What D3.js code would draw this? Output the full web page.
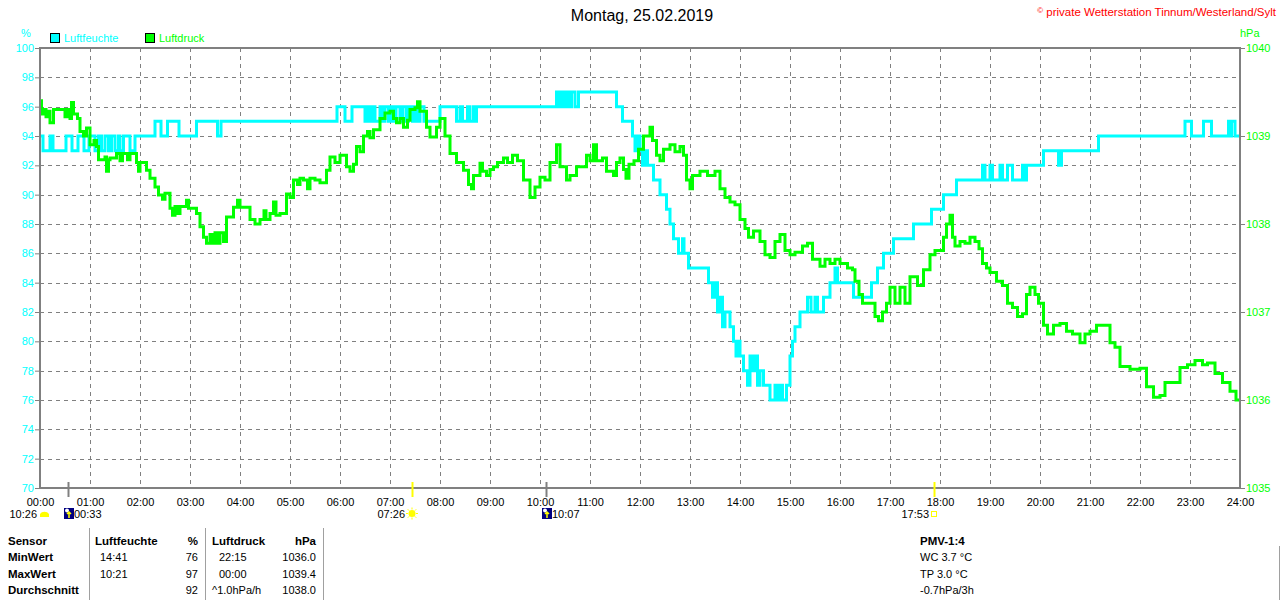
<!DOCTYPE html>
<html>
<head>
<meta charset="utf-8">
<script src="https://cdn.jsdelivr.net/npm/d3@7"></script>
<style>
body { margin: 0; background: #fff; }
svg { display: block; font-family: "Liberation Sans", Arial, sans-serif; }
</style>
</head>
<body>
<svg id="chart" width="1280" height="600"></svg>
<script>
// hours of day, relative humidity %
const humidity = [
  [0,94],[0.06,93],[0.2,94],[0.26,93],[0.52,94],[0.64,93],[0.76,94],[0.88,93],[0.98,94],[1.1,93],
  [1.17,94],[1.23,93],[1.3,94],[1.37,93],[1.43,94],[1.5,93],[1.57,94],[1.6,93],[1.67,94],[1.8,93],
  [1.9,94],[2.3,95],[2.42,94],[2.55,95],[2.78,94],[3.13,95],[3.55,94],[3.62,95],
  [5.94,96],[6.1,95],[6.24,96],[6.5,95],[6.55,96],[6.6,95],[6.64,96],[6.7,95],[6.8,96],[6.85,95],
  [6.9,96],[6.97,95],[7.02,96],[7.07,95],[7.12,96],[7.2,95],[7.25,96],[7.32,95],[7.37,96],[7.45,95],
  [7.5,96],[7.55,95],[7.6,96],[7.68,95],[8.0,96],[8.33,95],[8.4,96],[8.45,95],[8.55,96],[8.6,95],
  [8.67,96],[8.7,95],[8.73,96],[10.33,97],[10.38,96],[10.42,97],[10.48,96],[10.53,97],[10.58,96],
  [10.63,97],[10.7,96],[10.77,97],[11.53,96],[11.65,95],[11.85,94],[11.9,93],[11.95,94],[12.0,93],
  [12.05,92],[12.1,93],[12.15,92],[12.27,91],[12.4,90],[12.53,89],[12.6,88],[12.67,87],[12.77,86],
  [12.85,87],[12.88,86],[12.97,85],[13.37,84],[13.45,83],[13.5,84],[13.55,82],[13.6,83],[13.65,81],
  [13.7,82],[13.8,81],[13.87,80],[13.92,79],[13.97,80],[14.0,79],[14.07,78],[14.15,77],[14.2,79],
  [14.25,78],[14.3,79],[14.35,77],[14.4,78],[14.47,77],[14.6,76],[14.7,77],[14.75,76],[14.8,77],
  [14.85,76],[14.93,77],[15.0,79],[15.05,80],[15.1,81],[15.2,82],[15.35,83],[15.42,82],[15.5,83],
  [15.55,82],[15.67,83],[15.8,84],[15.9,85],[15.95,84],[16.27,83],[16.63,84],[16.75,85],[16.87,86],
  [17.07,87],[17.47,88],[17.83,89],[18.07,90],[18.33,91],[18.85,92],[18.9,91],[19.0,92],[19.05,91],
  [19.2,92],[19.25,91],[19.35,92],[19.45,91],[19.65,92],[19.7,91],[19.73,92],[20.07,93],[20.37,92],
  [20.43,93],[21.17,94],[22.9,95],[23.03,94],[23.27,95],[23.43,94],[23.77,95],[23.8,94],[23.83,95],
  [23.9,94],[24,94]
];

// hours of day, air pressure hPa
const pressure = [
  [0,1039.4],[0.03,1039.25],[0.08,1039.3],[0.12,1039.22],[0.17,1039.28],[0.2,1039.15],[0.27,1039.3],
  [0.5,1039.22],[0.55,1039.3],[0.6,1039.2],[0.63,1039.38],[0.67,1039.25],[0.75,1039.2],[0.8,1039.05],
  [0.87,1039.0],[0.93,1039.09],[1.0,1038.9],[1.08,1038.95],[1.13,1038.88],[1.17,1038.73],[1.3,1038.76],
  [1.33,1038.6],[1.37,1038.73],[1.4,1038.75],[1.53,1038.8],[1.6,1038.72],[1.65,1038.8],[1.75,1038.73],
  [1.8,1038.8],[1.93,1038.7],[1.97,1038.6],[2.0,1038.7],[2.13,1038.61],[2.2,1038.52],[2.3,1038.42],
  [2.37,1038.33],[2.45,1038.28],[2.5,1038.35],[2.6,1038.18],[2.65,1038.1],[2.7,1038.2],[2.75,1038.12],
  [2.8,1038.2],[2.93,1038.27],[2.97,1038.18],[3.13,1038.12],[3.2,1037.97],[3.27,1037.85],[3.33,1037.78],
  [3.4,1037.88],[3.45,1037.78],[3.5,1037.9],[3.55,1037.78],[3.6,1037.9],[3.67,1037.8],[3.73,1038.08],
  [3.87,1038.19],[3.95,1038.27],[4.0,1038.19],[4.2,1038.05],[4.3,1038.0],[4.4,1038.05],[4.48,1038.15],
  [4.52,1038.05],[4.6,1038.12],[4.67,1038.25],[4.72,1038.1],[4.8,1038.12],[4.93,1038.34],[5.0,1038.3],
  [5.07,1038.5],[5.15,1038.45],[5.2,1038.52],[5.27,1038.5],[5.35,1038.4],[5.4,1038.52],[5.5,1038.5],
  [5.6,1038.47],[5.73,1038.61],[5.8,1038.76],[5.9,1038.7],[6.0,1038.78],[6.13,1038.65],[6.2,1038.6],
  [6.27,1038.68],[6.33,1038.88],[6.4,1038.82],[6.47,1039.0],[6.55,1039.05],[6.6,1038.98],[6.67,1039.07],
  [6.8,1039.2],[6.9,1039.26],[7.0,1039.28],[7.07,1039.2],[7.13,1039.15],[7.2,1039.2],[7.27,1039.1],
  [7.35,1039.18],[7.4,1039.3],[7.5,1039.32],[7.55,1039.39],[7.6,1039.28],[7.73,1039.1],[7.8,1038.99],
  [7.93,1039.1],[8.0,1039.2],[8.1,1039.0],[8.2,1038.8],[8.33,1038.7],[8.47,1038.61],[8.57,1038.45],
  [8.63,1038.4],[8.67,1038.55],[8.8,1038.69],[8.85,1038.6],[8.93,1038.55],[9.0,1038.62],[9.07,1038.65],
  [9.15,1038.7],[9.27,1038.75],[9.35,1038.7],[9.45,1038.78],[9.55,1038.72],[9.67,1038.5],[9.8,1038.3],
  [9.9,1038.42],[10.0,1038.53],[10.1,1038.5],[10.2,1038.7],[10.33,1038.9],[10.4,1038.65],[10.53,1038.5],
  [10.6,1038.55],[10.73,1038.65],[10.93,1038.78],[11.0,1038.72],[11.07,1038.9],[11.13,1038.72],
  [11.25,1038.75],[11.33,1038.6],[11.47,1038.55],[11.53,1038.7],[11.6,1038.75],[11.67,1038.62],
  [11.72,1038.52],[11.78,1038.68],[11.88,1038.72],[11.97,1038.85],[12.07,1039.0],[12.2,1039.1],
  [12.25,1038.95],[12.33,1038.78],[12.4,1038.72],[12.47,1038.85],[12.6,1038.9],[12.7,1038.82],
  [12.8,1038.88],[12.87,1038.78],[12.93,1038.5],[13.0,1038.4],[13.05,1038.55],[13.2,1038.6],
  [13.35,1038.55],[13.5,1038.6],[13.6,1038.4],[13.7,1038.3],[13.8,1038.25],[13.9,1038.22],[14.0,1038.05],
  [14.1,1037.95],[14.17,1037.85],[14.27,1037.92],[14.4,1037.8],[14.5,1037.65],[14.6,1037.62],
  [14.7,1037.8],[14.8,1037.88],[14.9,1037.7],[15.0,1037.65],[15.1,1037.68],[15.25,1037.75],
  [15.35,1037.78],[15.45,1037.6],[15.6,1037.52],[15.7,1037.6],[15.8,1037.55],[15.9,1037.6],
  [16.0,1037.55],[16.15,1037.5],[16.25,1037.48],[16.3,1037.35],[16.38,1037.2],[16.45,1037.1],
  [16.6,1037.1],[16.7,1036.95],[16.77,1036.9],[16.85,1037.0],[16.93,1037.1],[17.0,1037.28],
  [17.1,1037.1],[17.2,1037.28],[17.3,1037.1],[17.4,1037.4],[17.55,1037.3],[17.67,1037.48],
  [17.8,1037.65],[17.9,1037.7],[18.0,1037.7],[18.07,1037.85],[18.13,1038.0],[18.2,1038.1],
  [18.25,1037.85],[18.3,1037.75],[18.4,1037.8],[18.5,1037.78],[18.6,1037.85],[18.7,1037.8],
  [18.78,1037.72],[18.85,1037.55],[18.93,1037.5],[19.0,1037.45],[19.13,1037.35],[19.25,1037.3],
  [19.35,1037.1],[19.45,1037.05],[19.55,1036.95],[19.65,1036.98],[19.73,1037.2],[19.8,1037.28],
  [19.9,1037.2],[19.97,1037.1],[20.07,1036.85],[20.15,1036.75],[20.27,1036.85],[20.4,1036.87],
  [20.53,1036.78],[20.65,1036.75],[20.8,1036.65],[20.9,1036.75],[21.0,1036.78],[21.13,1036.85],
  [21.25,1036.85],[21.4,1036.65],[21.5,1036.6],[21.6,1036.38],[21.8,1036.35],[22.0,1036.36],
  [22.13,1036.15],[22.27,1036.03],[22.4,1036.05],[22.5,1036.2],[22.7,1036.2],[22.8,1036.37],
  [22.95,1036.4],[23.1,1036.45],[23.25,1036.4],[23.35,1036.42],[23.5,1036.3],[23.65,1036.2],
  [23.8,1036.1],[23.92,1036.0],[24,1036.0]
];

const hourTicks = d3.range(0, 25);
const humTicks = d3.range(70, 101, 2);
const presTicks = [1035, 1036, 1037, 1038, 1039, 1040];

// sun / moon events under the time axis
const events = [
  {t: 0, label: "10:26", kind: "moonrise"},
  {t: 0.55, label: "00:33", kind: "moon"},
  {t: 7.433, label: "07:26", kind: "sunrise"},
  {t: 10.117, label: "10:07", kind: "moon"},
  {t: 17.883, label: "17:53", kind: "sunset"}
];

const tableRows = ["Sensor", "MinWert", "MaxWert", "Durchschnitt"];
const humCol = [["Luftfeuchte", "%"], ["14:41", "76"], ["10:21", "97"], ["", "92"]];
const presCol = [["Luftdruck", "hPa"], ["22:15", "1036.0"], ["00:00", "1039.4"], ["^1.0hPa/h", "1038.0"]];
const pmvLines = ["PMV-1:4", "WC 3.7 °C", "TP 3.0 °C", "-0.7hPa/3h"];

const svg = d3.select('#chart');
const pL = 40, pR = 1240, pT = 48, pB = 488;
const cyan = '#00ffff', green = '#00ff00', gridCol = '#808080';

const x = d3.scaleLinear().domain([0, 24]).range([pL, pR]);
const yH = d3.scaleLinear().domain([70, 100]).range([pB, pT]);
const yP = d3.scaleLinear().domain([1035, 1040]).range([pB, pT]);

// title + copyright
svg.append('text').attr('x', 642).attr('y', 21).attr('text-anchor', 'middle')
  .attr('font-size', 16).text('Montag, 25.02.2019');
const copy = svg.append('text').attr('x', 1276).attr('y', 16).attr('text-anchor', 'end')
  .attr('font-size', 11.5).attr('fill', '#ff0000');
copy.append('tspan').attr('font-size', 8).attr('dy', -3).text('©');
copy.append('tspan').attr('dy', 3).text(' private Wetterstation Tinnum/Westerland/Sylt');

// units + legend
svg.append('text').attr('x', 26).attr('y', 37).attr('text-anchor', 'middle')
  .attr('font-size', 11).attr('fill', cyan).text('%');
svg.append('text').attr('x', 1240).attr('y', 37)
  .attr('font-size', 11).attr('fill', green).text('hPa');
const legend = [["Luftfeuchte", cyan, 50], ["Luftdruck", green, 145]];
legend.forEach(([name, col, lx]) => {
  svg.append('rect').attr('x', lx + 0.5).attr('y', 33.5).attr('width', 9).attr('height', 9)
    .attr('fill', col).attr('stroke', '#000');
  svg.append('text').attr('x', lx + 14).attr('y', 42).attr('font-size', 11)
    .attr('fill', col).text(name);
});

// grid
const g = svg.append('g');
g.selectAll('.vg').data(hourTicks.slice(1, -1)).enter().append('line')
  .attr('x1', d => x(d) + 0.5).attr('x2', d => x(d) + 0.5)
  .attr('y1', pT).attr('y2', pB)
  .attr('stroke', gridCol).attr('stroke-dasharray', '4,4');
g.selectAll('.hg').data(humTicks.slice(1, -1)).enter().append('line')
  .attr('x1', pL).attr('x2', pR)
  .attr('y1', d => Math.round(yH(d)) + 0.5).attr('y2', d => Math.round(yH(d)) + 0.5)
  .attr('stroke', gridCol).attr('stroke-dasharray', '4,4');

// lines
svg.append('clipPath').attr('id', 'clip').append('rect')
  .attr('x', pL).attr('y', pT - 3).attr('width', pR - pL).attr('height', pB - pT + 3);
const humLine = d3.line().curve(d3.curveStepAfter).x(d => x(d[0])).y(d => yH(d[1]));
const presLine = d3.line().curve(d3.curveStepAfter).x(d => x(d[0])).y(d => yP(d[1]));
const lines = svg.append('g').attr('clip-path', 'url(#clip)');
lines.append('path').datum(humidity).attr('d', humLine)
  .attr('fill', 'none').attr('stroke', cyan).attr('stroke-width', 3);
lines.append('path').datum(pressure).attr('d', presLine)
  .attr('fill', 'none').attr('stroke', green).attr('stroke-width', 3);

// frame
svg.append('rect').attr('x', pL).attr('y', pT).attr('width', pR - pL).attr('height', pB - pT)
  .attr('fill', 'none').attr('stroke', gridCol).attr('stroke-width', 2);

// axes
const axL = svg.append('g').attr('transform', `translate(${pL},0)`)
  .call(d3.axisLeft(yH).tickValues(humTicks).tickSize(5).tickPadding(1));
axL.selectAll('text').attr('fill', cyan);
const axR = svg.append('g').attr('transform', `translate(${pR},0)`)
  .call(d3.axisRight(yP).tickValues(presTicks).tickSize(5).tickPadding(1).tickFormat(d3.format('d')));
axR.selectAll('text').attr('fill', green);
const pad = n => (n < 10 ? '0' : '') + n;
const axB = svg.append('g').attr('transform', `translate(0,${pB})`)
  .call(d3.axisBottom(x).tickValues(hourTicks).tickSize(0).tickPadding(10).tickFormat(d => pad(d) + ':00'));
axB.selectAll('text').attr('fill', '#000');
[axL, axR, axB].forEach(a => {
  a.attr('font-size', 11).attr('font-family', '"Liberation Sans", Arial, sans-serif');
  a.select('.domain').remove();
  a.selectAll('line').attr('stroke', gridCol);
});

// sun / moon markers
const ev = svg.append('g').attr('font-size', 11);
events.forEach(e => {
  const ex = Math.round(x(e.t));
  if (e.kind === 'moonrise') {
    ev.append('text').attr('x', 37).attr('y', 518).attr('text-anchor', 'end').text(e.label);
    ev.append('path').attr('d', `M${ex},517 L${ex},514 A5,4 0 0 1 ${ex + 9},514 L${ex + 9},517 Z`)
      .attr('fill', '#ffff00');
    return;
  }
  const tickCol = e.kind === 'moon' ? gridCol : '#ffff00';
  ev.append('line').attr('x1', ex + 0.5).attr('x2', ex + 0.5).attr('y1', 482).attr('y2', 497)
    .attr('stroke', tickCol).attr('stroke-width', 2);
  if (e.kind === 'moon') {
    ev.append('rect').attr('x', ex - 4).attr('y', 508).attr('width', 10).attr('height', 11).attr('fill', '#000080');
    ev.append('circle').attr('cx', ex - 1).attr('cy', 510.5).attr('r', 2).attr('fill', '#fff');
    ev.append('path').attr('d', `M${ex + 1},518 L${ex + 1},512 M${ex - 1},514 L${ex + 1},512 L${ex + 3},514`)
      .attr('stroke', '#ffff00').attr('stroke-width', 1.5).attr('fill', 'none');
    ev.append('text').attr('x', ex + 6).attr('y', 518).text(e.label);
  } else if (e.kind === 'sunrise') {
    ev.append('circle').attr('cx', ex).attr('cy', 513.5).attr('r', 3.5).attr('fill', '#ffff00');
    d3.range(8).forEach(i => {
      const a = i * Math.PI / 4;
      ev.append('line').attr('x1', ex + Math.cos(a) * 4).attr('y1', 513.5 + Math.sin(a) * 4)
        .attr('x2', ex + Math.cos(a) * 6).attr('y2', 513.5 + Math.sin(a) * 6)
        .attr('stroke', '#ffff00').attr('stroke-width', 1);
    });
    ev.append('text').attr('x', ex - 7).attr('y', 518).attr('text-anchor', 'end').text(e.label);
  } else {
    ev.append('rect').attr('x', ex - 2.5).attr('y', 511.5).attr('width', 5).attr('height', 5)
      .attr('fill', 'none').attr('stroke', '#ffff00');
    ev.append('text').attr('x', ex - 5).attr('y', 518).attr('text-anchor', 'end').text(e.label);
  }
});

// statistics table
const tb = svg.append('g').attr('font-size', 11);
const rowY = [545, 561, 578, 594];
tableRows.forEach((r, i) => {
  tb.append('text').attr('x', 8).attr('y', rowY[i]).attr('font-weight', 'bold').attr('font-size', 11.5).text(r);
});
[[humCol, 95, 100, 198], [presCol, 212, 219, 316]].forEach(([col, hx, vx, rx]) => {
  col.forEach((c, i) => {
    const head = i === 0;
    const lx = head || c[0].startsWith('^') ? hx : vx;
    tb.append('text').attr('x', lx).attr('y', rowY[i])
      .attr('font-weight', head ? 'bold' : null).attr('font-size', head ? 11.5 : 11).text(c[0]);
    tb.append('text').attr('x', rx).attr('y', rowY[i]).attr('text-anchor', 'end')
      .attr('font-weight', head ? 'bold' : null).attr('font-size', head ? 11.5 : 11).text(c[1]);
  });
});
[89, 205, 323].forEach(sx => {
  tb.append('line').attr('x1', sx + 0.5).attr('x2', sx + 0.5).attr('y1', 528).attr('y2', 600)
    .attr('stroke', '#a0a0a0');
});
tb.append('line').attr('x1', 1279.5).attr('x2', 1279.5).attr('y1', 546).attr('y2', 600).attr('stroke', '#a0a0a0');
pmvLines.forEach((t, i) => {
  tb.append('text').attr('x', 920).attr('y', rowY[i])
    .attr('font-weight', i === 0 ? 'bold' : null).attr('font-size', i === 0 ? 11.5 : 11).text(t);
});
</script>
</body>
</html>
